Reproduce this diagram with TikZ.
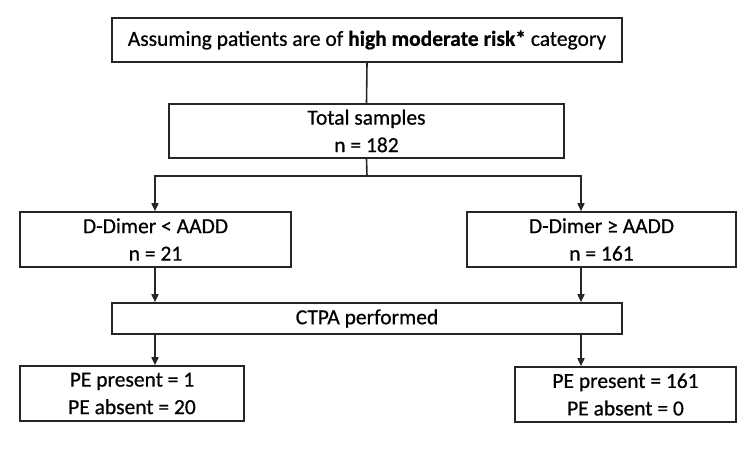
\documentclass[tikz,border=0pt]{standalone}
\usepackage{fontspec}
\setmainfont{Carlito}[FakeBold=0.6]
\usetikzlibrary{arrows.meta}
\begin{document}
\begin{tikzpicture}[x=1pt,y=-1pt,
  box/.style={draw=black!85,line width=1.6pt,minimum width=#1,inner sep=0pt,align=center,
    font=\fontsize{21.5}{27.5}\selectfont},
  link/.style={line width=1.6pt,draw=black!85},
  arr/.style={link,-{Triangle[length=8pt,width=7pt]}}]
\useasboundingbox (0,0) rectangle (750,454);
\node[box=510pt,minimum height=44pt] (top) at (367,40) {Assuming patients are of \textbf{high moderate risk*} category};
\node[box=395pt,minimum height=54pt] (total) at (366.5,131) {Total samples\\n = 182};
\node[box=271pt,minimum height=55pt] (ldd) at (155.5,239.5) {D-Dimer < AADD\\n = 21};
\node[box=269pt,minimum height=55pt] (rdd) at (601.5,239.5) {D-Dimer ≥ AADD\\n = 161};
\node[box=510pt,minimum height=31pt] (ctpa) at (367,318.5) {CTPA performed};
\node[box=224pt,minimum height=55pt] (lpe) at (132,393.5) {PE present = 1\\PE absent = 20};
\node[box=221pt,minimum height=55pt] (rpe) at (625.5,394.5) {PE present = 161\\PE absent = 0};
% branch points
\coordinate (split) at (367,176);
\coordinate (lx) at (155,0);
\coordinate (rx) at (581,0);
\draw[link] (top.south) -- (total.north);
\draw[link] (total.south) -- (split);
\draw[arr] (split) -| (lx |- ldd.north);
\draw[arr] (split) -| (rx |- rdd.north);
\draw[arr] (lx |- ldd.south) -- (lx |- ctpa.north);
\draw[arr] (rx |- rdd.south) -- (rx |- ctpa.north);
\draw[arr] (lx |- ctpa.south) -- (lx |- lpe.north);
\draw[arr] (rx |- ctpa.south) -- (rx |- rpe.north);
\end{tikzpicture}
\end{document}
